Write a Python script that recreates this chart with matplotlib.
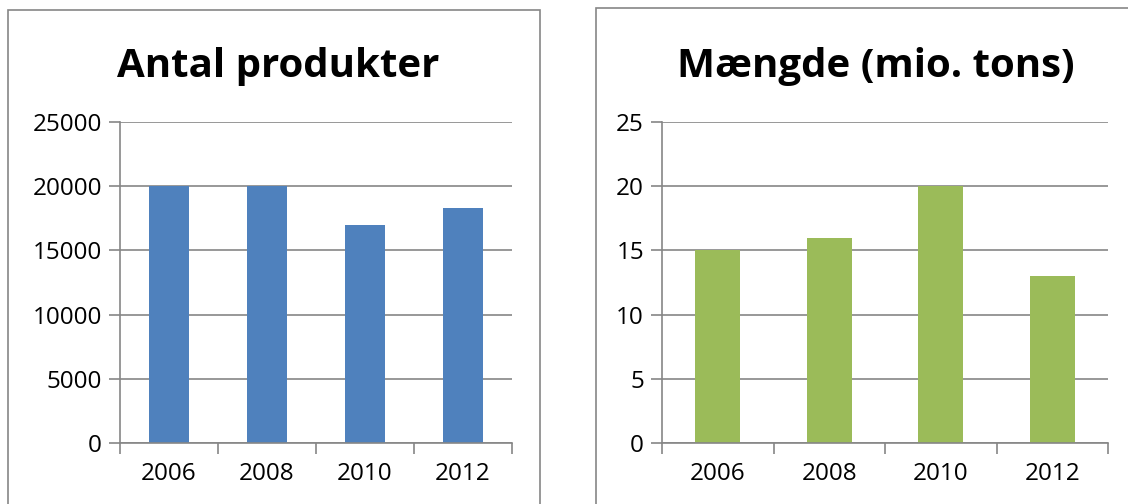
import matplotlib
matplotlib.use("Agg")
import matplotlib.pyplot as plt
from matplotlib.patches import Rectangle

plt.rcParams['font.family'] = ['Open Sans', 'DejaVu Sans']

years = ['2006', '2008', '2010', '2012']
antal = [20000, 20000, 17000, 18300]
maengde = [15, 16, 20, 13]

GRAY = '#868686'

fig = plt.figure(figsize=(11.28, 5.04), dpi=100)

# panel frames
fig.patches.append(Rectangle((8 / 1128, -0.1), 532 / 1128, 1.1 - 10 / 504,
                             transform=fig.transFigure, fill=False,
                             edgecolor=GRAY, linewidth=1.2))
fig.patches.append(Rectangle((596 / 1128, -0.1), 0.6, 1.1 - 8 / 504,
                             transform=fig.transFigure, fill=False,
                             edgecolor=GRAY, linewidth=1.2))


def panel(rect, values, ymax, step, color, title, title_x):
    ax = fig.add_axes(rect)
    x = range(len(years))
    ax.bar(x, values, width=0.4, color=color, zorder=3)
    ax.set_xlim(-0.5, len(years) - 0.5)
    ax.set_ylim(0, ymax)
    ax.set_yticks(range(0, ymax + 1, step))
    ax.set_xticks(list(x))
    ax.set_xticklabels(years)
    ax.set_xticks([i - 0.5 for i in range(len(years) + 1)], minor=True)
    ax.tick_params(axis='x', which='major', length=0, pad=14, labelsize=17.5)
    ax.tick_params(axis='x', which='minor', length=8, color=GRAY, width=1.2)
    ax.tick_params(axis='y', length=8, color=GRAY, width=1.2, pad=5, labelsize=17.5)
    ax.grid(axis='y', color=GRAY, linewidth=1.2, zorder=0)
    for s in ['top', 'right']:
        ax.spines[s].set_visible(False)
    for s in ['left', 'bottom']:
        ax.spines[s].set_color(GRAY)
        ax.spines[s].set_linewidth(1.2)
        ax.spines[s].set_zorder(4)
    fig.text(title_x, 1 - 66 / 504, title, ha='center', va='center',
             fontsize=29, fontweight='bold')
    return ax


bottom = 1 - 443 / 504
panel([120 / 1128, bottom, 392 / 1128, (443 - 122) / 504], antal, 25000, 5000,
      '#4F81BD', 'Antal produkter', 278 / 1128)
panel([662 / 1128, bottom, 446 / 1128, (443 - 122) / 504], maengde, 25, 5,
      '#9BBB59', 'Mængde (mio. tons)', 876 / 1128)

fig.savefig('out.png', dpi=100)
